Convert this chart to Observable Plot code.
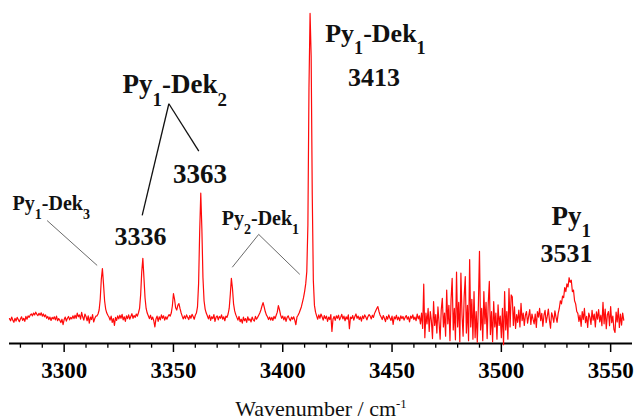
<!DOCTYPE html>
<html>
<head>
<meta charset="utf-8">
<script src="https://cdn.jsdelivr.net/npm/d3@7"></script>
<script src="https://cdn.jsdelivr.net/npm/@observablehq/plot@0.6"></script>
<style>
  html, body { margin: 0; padding: 0; background: #fff; }
  #chart { width: 634px; height: 419px; overflow: hidden; }
  #chart svg, #chart svg text { font-family: "Liberation Serif", "Times New Roman", serif !important; }
</style>
</head>
<body>
<div id="chart"></div>
<script>
// ---- Data ----
// Spectrum sampled every 0.5 cm^-1 starting at 3275 cm^-1 (intensity, arbitrary units, baseline = 0)
const specStart = 3275;
const specStep = 0.5;
const intensity = [
  // 3275
  -0.3, -1.0, 0.2, -0.8, -1.5, -0.2, -1.1, 0.1, -0.6, -1.3, -0.4, 0.3, -0.9, -0.2, -1.2, 0.4, -0.5, 0.6, 0.1, 0.9,
  // 3285
  1.2, 0.6, 1.5, 0.9, 1.8, 1.1, 0.7, 1.4, 0.8, 1.6, 0.5, 1.2, 0.3, 0.9, -0.2, 0.4, -0.6, 0.2, -0.9, 0.1,
  // 3295
  -0.4, 0.3, -0.7, 0.5, -1.0, -0.3, -0.8, -1.6, -0.5, -2.3, -0.6, 0.2, -1.1, -0.2, 0.4, -0.7, 0.1, -0.4, 0.6, -0.3,
  // 3305
  0.8, -0.2, 1.5, 0.3, 0.9, -0.5, 1.7, 0.2, -0.8, 1.2, 0.4, -1.0, 0.6, -1.8, 0.2, -0.6, 1.0, -1.4, -0.3, 0.5,
  // 3315
  0.6, 1.2, 2.5, 6.0, 12.5, 16.0, 11.0, 5.5, 2.8, 1.5, 0.8, 0.2, -0.8, 0.5, -1.5, -0.3, -2.5, 0.1, -0.9, 0.6,
  // 3325
  -0.4, 0.8, -0.2, 1.1, -0.7, 0.3, -1.2, 0.6, -0.3, 0.9, -0.5, 0.4, 1.3, -0.2, 0.7, 0.1, 1.2, 0.5, 1.6, 3.0,
  // 3335
  7.5, 15.0, 19.3, 13.0, 6.5, 3.0, 1.5, 0.6, -0.3, 0.8, -0.6, 0.2, -1.0, -3.0, -0.4, 0.5, -1.2, 0.3, -0.7, 0.9,
  // 3345
  -0.2, 0.6, -0.8, 0.3, -0.5, 0.4, 1.0, 0.5, 1.5, 3.8, 7.8, 6.0, 3.2, 2.5, 4.0, 4.6, 3.0, 1.6, 0.5, -0.4,
  // 3355
  0.6, -0.3, 0.9, 0.1, -0.6, 0.7, -0.2, 1.1, 0.4, -0.5, 0.8, 1.5, 3.5, 11.0, 28.0, 40.5, 29.0, 13.0, 5.5, 2.8,
  // 3365
  1.5, 0.6, -0.4, 0.8, -0.9, 0.3, -0.3, 1.0, -1.2, 0.2, 0.6, -0.7, 0.4, -0.2, 0.9, -0.5, 0.3, -1.0, 0.5, 0.1,
  // 3375
  1.2, 3.0, 7.5, 12.8, 9.5, 4.5, 2.2, 1.0, 0.1, -0.8, 0.4, -1.3, -0.5, -1.8, 0.2, -1.0, -0.3, -1.5, 0.3, -0.9,
  // 3385
  -0.4, -1.4, 0.2, -0.7, -1.1, 0.4, -0.5, 0.1, 0.8, 1.5, 2.5, 3.8, 4.9, 3.5, 2.0, 0.9, 0.3, -0.6, 0.2, -0.8,
  // 3395
  0.1, -0.9, 0.4, -0.3, 0.8, 1.8, 3.9, 2.6, 0.9, -0.2, 0.5, -0.7, 0.3, -1.2, 0.1, 0.6, -0.4, -1.0, 0.2, -0.5,
  // 3405
  0.3, -0.8, -2.3, 0.2, 0.8, 1.5, 2.5, 3.5, 5.0, 6.5, 8.5, 11.0, 15.0, 30.0, 75.0, 99.0, 85.0, 40.0, 12.0, 4.0,
  // 3415
  1.8, 0.6, -0.5, 0.9, -0.2, 1.2, 0.3, -0.8, 0.7, -0.3, 0.5, -1.2, 0.2, -0.6, 1.0, -4.5, -0.4, 0.4, -0.9, 0.6,
  // 3425
  -0.2, 0.8, -0.7, 0.1, 1.1, -0.4, 0.5, -1.0, 0.3, -0.5, 0.9, -3.6, 0.2, -0.3, 0.7, -0.8, 0.4, 1.2, -0.2, 0.5,
  // 3435
  -0.6, 0.3, -1.1, 0.6, -0.3, 0.9, 0.2, -0.7, 0.4, 1.0, 0.5, -0.4, 0.8, 0.1, 1.4, 2.2, 3.0, 3.6, 2.1, 0.9,
  // 3445
  0.2, -0.6, 0.7, -0.2, -1.3, 0.4, -0.5, 0.9, -0.1, -0.9, 0.5, -2.2, 0.3, -0.4, 0.8, -0.7, 0.2, -1.0, 0.6, -0.3,
  // 3455
  0.4, -0.8, 0.1, 0.7, -0.5, 0.3, -1.4, 0.5, -0.2, 0.9, -0.6, 0.2, -1.0, 1.2, -0.4, 0.6, -2.0, 1.5, -3.5, 10.9,
  // 3465
  -6.5, 1.5, -2.0, 3.0, -4.5, 2.0, -1.0, -6.8, 5.2, -2.5, 1.0, -5.0, 3.5, -1.5, -7.0, 2.5, 6.3, -3.0, 1.5, -6.0,
  // 3475
  9.0, -2.0, 4.0, -7.5, 6.0, 12.8, -4.0, 3.0, -7.2, 14.8, -3.0, 5.0, -7.8, 14.5, 1.0, -6.0, 7.0, 13.4, -5.0, 4.0,
  // 3485
  -7.5, 18.9, -3.0, 6.0, -7.0, 8.5, -6.5, 2.0, -8.0, 4.0, 21.6, -4.0, 3.0, -7.5, 8.5, -2.0, 5.0, -6.8, 4.5, 11.8,
  // 3495
  -5.5, 2.0, -7.8, 5.2, -3.0, 1.5, -7.0, 4.2, -2.5, 0.5, -6.5, 3.0, -8.8, 8.5, -4.0, 2.0, -7.0, 9.5, -3.0, 7.4,
  // 3505
  6.8, -2.5, 3.5, -3.5, 1.0, -1.5, 2.5, -3.0, 4.7, -1.0, 1.5, -2.5, 0.8, 2.0, -1.8, 0.5, 2.6, -2.2, 1.2, -0.5,
  // 3515
  -2.0, 1.2, -3.2, 2.0, 0.2, 3.0, -1.0, 1.4, -2.8, 0.8, 2.4, -1.6, 0.4, 2.8, -0.8, -3.4, 1.6, 0.3, -1.5, 2.2,
  // 3525
  0.2, -1.5, 1.4, 3.0, 5.5, 4.5, 7.0, 6.5, 9.8, 8.5, 11.0, 10.0, 13.0, 11.5, 12.2, 8.5, 9.0, 5.5, 4.5, 2.0,
  // 3535
  1.4, -1.2, 0.8, -2.8, 2.0, -0.6, 3.0, -1.6, 0.4, -3.2, 1.5, 0.2, -2.2, 2.4, -0.8, 1.2, -3.0, 1.9, -0.5, 2.6,
  // 3545
  -1.4, 0.8, -2.6, 5.0, -2.0, 2.8, -3.6, 1.0, 2.0, -2.6, 3.6, -1.6, 0.5, -3.8, -4.8, 1.8, -1.4, 3.0, -3.2, 1.2,
  // 3555
  -2.4, 1.5, -0.8
];

// Axis ticks
const majorTicks = [3300, 3350, 3400, 3450, 3500, 3550];
const minorTicks = [3280, 3290, 3310, 3320, 3330, 3340, 3360, 3370, 3380, 3390, 3410, 3420, 3430, 3440, 3460, 3470, 3480, 3490, 3510, 3520, 3530, 3540];
const xTitle = "Wavenumber / cm^-1";

// Peak annotations (text, wavenumber, intensity of the text baseline)
const labelText = ["Py_1-Dek_3", "3336", "Py_1-Dek_2", "3363", "Py_2-Dek_1", "Py_1-Dek_1", "3413", "Py_1", "3531"];
const labelX = [3294.1, 3334.9, 3350.6, 3362.2, 3389.8, 3442.4, 3441.7, 3532.0, 3529.8];
const labelY = [34.9, 23.8, 73.0, 43.8, 30.2, 89.6, 75.5, 30.3, 18.1];

// Leader lines (wavenumber / intensity end points)
const leaderX1 = [3292.2, 3347.9, 3347.9, 3389.0, 3389.0];
const leaderY1 = [31.6, 69.6, 69.6, 27.1, 27.1];
const leaderX2 = [3315.1, 3335.7, 3361.6, 3376.9, 3407.8];
const leaderY2 = [17.0, 33.3, 54.2, 16.4, 14.1];
const leaderGroup = ["minor", "major", "major", "minor", "minor"];

// ---- Build tables ----
const spectrum = intensity.map((v, i) => ({x: specStart + i * specStep, y: v}));
const labels = labelText.map((t, i) => ({t, x: labelX[i], y: labelY[i], i}));
const leaders = leaderX1.map((_, i) => ({x1: leaderX1[i], y1: leaderY1[i], x2: leaderX2[i], y2: leaderY2[i], g: leaderGroup[i]}));
const labelSize = [20, 26, 27, 27, 20, 26, 26, 27, 26];

const yMin = -8.4, yMax = 103.2;
const serif = "Liberation Serif, Times New Roman, serif";

const chart = Plot.plot({
  width: 634,
  height: 419,
  marginLeft: 9,
  marginRight: 2,
  marginTop: 0,
  marginBottom: 76,
  style: {fontFamily: serif, background: "#fff", color: "#000"},
  x: {domain: [3275, 3560], label: null},
  y: {domain: [yMin, yMax], axis: null},
  marks: [
    Plot.ruleY([yMin], {stroke: "#000", strokeWidth: 1.8}),
    Plot.axisX(minorTicks, {tickSize: 4.7, text: null, label: null, strokeWidth: 1.3, stroke: "#000"}),
    Plot.axisX(majorTicks, {tickSize: 9, tickPadding: 8.7, label: null, fontSize: 23, fontWeight: "bold", tickFormat: d => String(d), strokeWidth: 1.5, stroke: "#000", fill: "#000"}),
    Plot.line(spectrum, {x: "x", y: "y", stroke: "#ff0a0a", strokeWidth: 1.2}),
    Plot.link(leaders.filter(d => d.g === "minor"), {x1: "x1", y1: "y1", x2: "x2", y2: "y2", stroke: "#444", strokeWidth: 0.8}),
    Plot.link(leaders.filter(d => d.g === "major"), {x1: "x1", y1: "y1", x2: "x2", y2: "y2", stroke: "#111", strokeWidth: 1.3}),
    Plot.text(labels, {x: "x", y: "y", text: "t", fontSize: d => labelSize[d.i], fontWeight: "bold", fill: "#111", lineAnchor: "bottom", textAnchor: "middle"}),
    Plot.text([xTitle], {frameAnchor: "bottom", dy: 72, fontSize: 22, fill: "#111", lineAnchor: "bottom", textAnchor: "middle"})
  ]
});

document.getElementById("chart").appendChild(chart);

// Rich text: _x = subscript, ^-1 = superscript
const NS = "http://www.w3.org/2000/svg";
chart.querySelectorAll("text").forEach(t => {
  const s = t.textContent;
  if (!/[_^]/.test(s)) return;
  const fs = parseFloat(getComputedStyle(t).fontSize);
  const parts = s.split(/(_\d|\^-?\d)/).filter(Boolean);
  t.textContent = "";
  let shift = 0;
  for (const p of parts) {
    const ts = document.createElementNS(NS, "tspan");
    let target;
    if (p[0] === "_") {
      ts.textContent = p.slice(1);
      ts.setAttribute("font-size", (fs * 0.7).toFixed(1));
      target = fs * 0.45;
    } else if (p[0] === "^") {
      ts.textContent = p.slice(1);
      ts.setAttribute("font-size", (fs * 0.58).toFixed(1));
      target = -fs * 0.33;
    } else {
      ts.textContent = p;
      target = 0;
    }
    const dy = target - shift;
    if (Math.abs(dy) > 0.01) ts.setAttribute("dy", dy.toFixed(1));
    shift = target;
    t.appendChild(ts);
  }
});
</script>
</body>
</html>
